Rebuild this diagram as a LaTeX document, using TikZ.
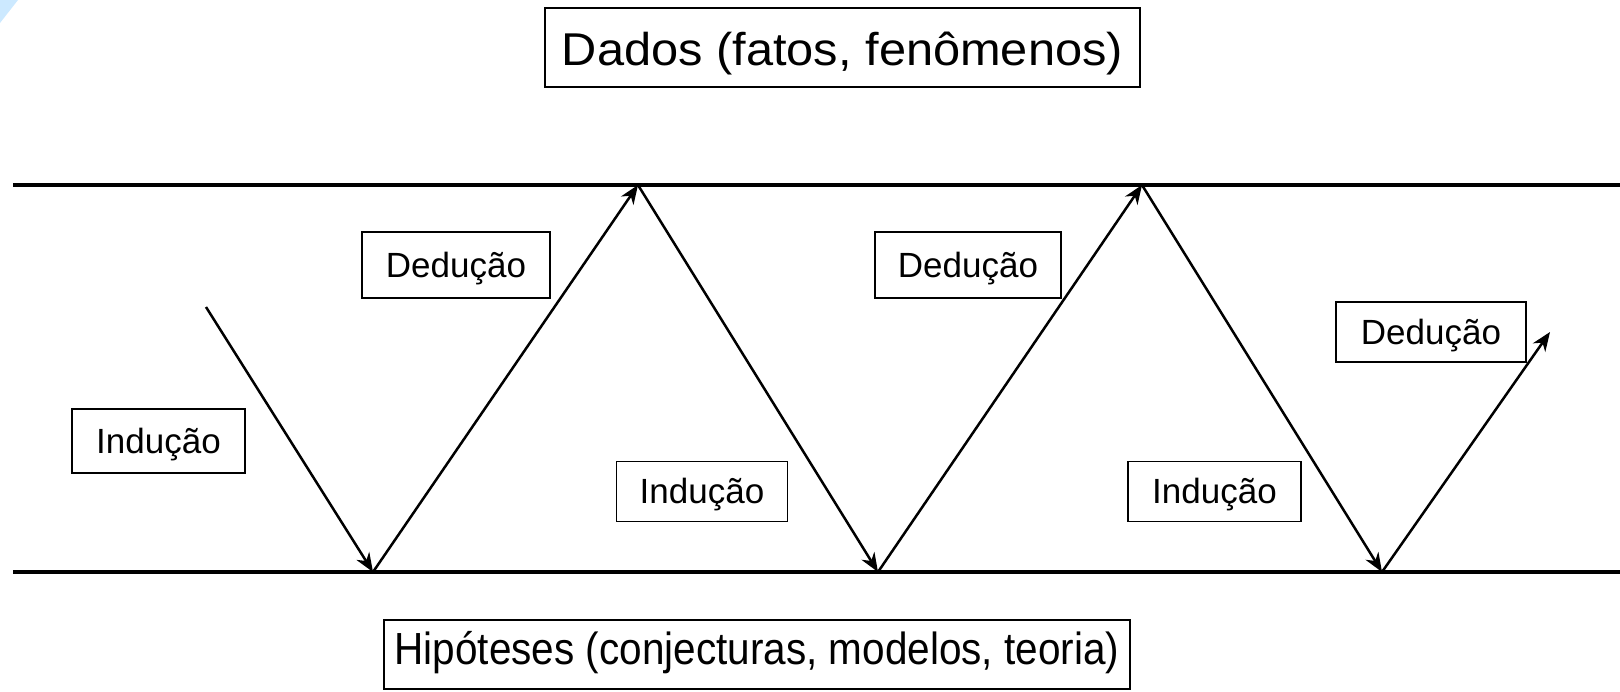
\documentclass[tikz,border=0pt]{standalone}
\usepackage{fontspec}
\setmainfont{Liberation Sans}
\newfontfamily\topfont[FakeStretch=1.06]{Liberation Sans}
\newfontfamily\botfont[FakeStretch=0.9]{Liberation Sans}
\usetikzlibrary{arrows.meta}
\definecolor{cornerblue}{HTML}{CCE9FF}
\begin{document}
\begin{tikzpicture}[x=1pt,y=-1pt,
  bigbox/.style={draw,line width=1.8pt,inner sep=0pt,text depth=0pt},
  smallbox/.style={draw,line width=1.7pt,inner sep=0pt,text height=24pt,text depth=0pt,font=\fontsize{35}{40}\selectfont},
  band/.style={line width=3.2pt},
  step arrow/.style={line width=2.5pt,-{Stealth[length=19pt,width=15pt,inset=6pt]}}]
\useasboundingbox (0,0) rectangle (1620,691);
\fill[cornerblue] (0,0) -- (18,0) -- (0,23) -- cycle;
% bands
\coordinate (tl) at (13,185);
\coordinate (tr) at (1620,185);
\coordinate (bl) at (13,572);
\coordinate (br) at (1620,572);
\draw[band] (tl) -- (tr);
\draw[band] (bl) -- (br);
% boxes
\node[bigbox,font=\fontsize{46}{50}\selectfont\topfont,text height=35pt,minimum width=595pt,minimum height=79pt] (dados) at (842.5,47.5) {Dados (fatos, fenômenos)};
\node[bigbox,font=\fontsize{45}{50}\selectfont\botfont,text height=19pt,minimum width=746pt,minimum height=69pt] (hip) at (757,654.5) {Hipóteses (conjecturas, modelos, teoria)};
\node[smallbox,minimum width=188pt,minimum height=66pt] (ded1) at (456,265) {Dedução};
\node[smallbox,minimum width=186pt,minimum height=66pt] (ded2) at (968,265) {Dedução};
\node[smallbox,minimum width=190pt,minimum height=60pt] (ded3) at (1431,332) {Dedução};
\node[smallbox,minimum width=173pt,minimum height=64pt] (ind1) at (158.5,441) {Indução};
\node[smallbox,minimum width=171pt,minimum height=60pt] (ind2) at (702,491.5) {Indução};
\node[smallbox,minimum width=173pt,minimum height=60pt] (ind3) at (1214.5,491.5) {Indução};
% zigzag
\coordinate (s0) at (206,307);
\coordinate (b1) at (373,572);
\coordinate (t1) at (638,185);
\coordinate (b2) at (878,572);
\coordinate (t2) at (1142,185);
\coordinate (b3) at (1382,572);
\coordinate (e0) at (1550,332);
\draw[step arrow] (s0) -- (b1);
\draw[step arrow] (b1) -- (t1);
\draw[step arrow] (t1) -- (b2);
\draw[step arrow] (b2) -- (t2);
\draw[step arrow] (t2) -- (b3);
\draw[step arrow] (b3) -- (e0);
\end{tikzpicture}
\end{document}
